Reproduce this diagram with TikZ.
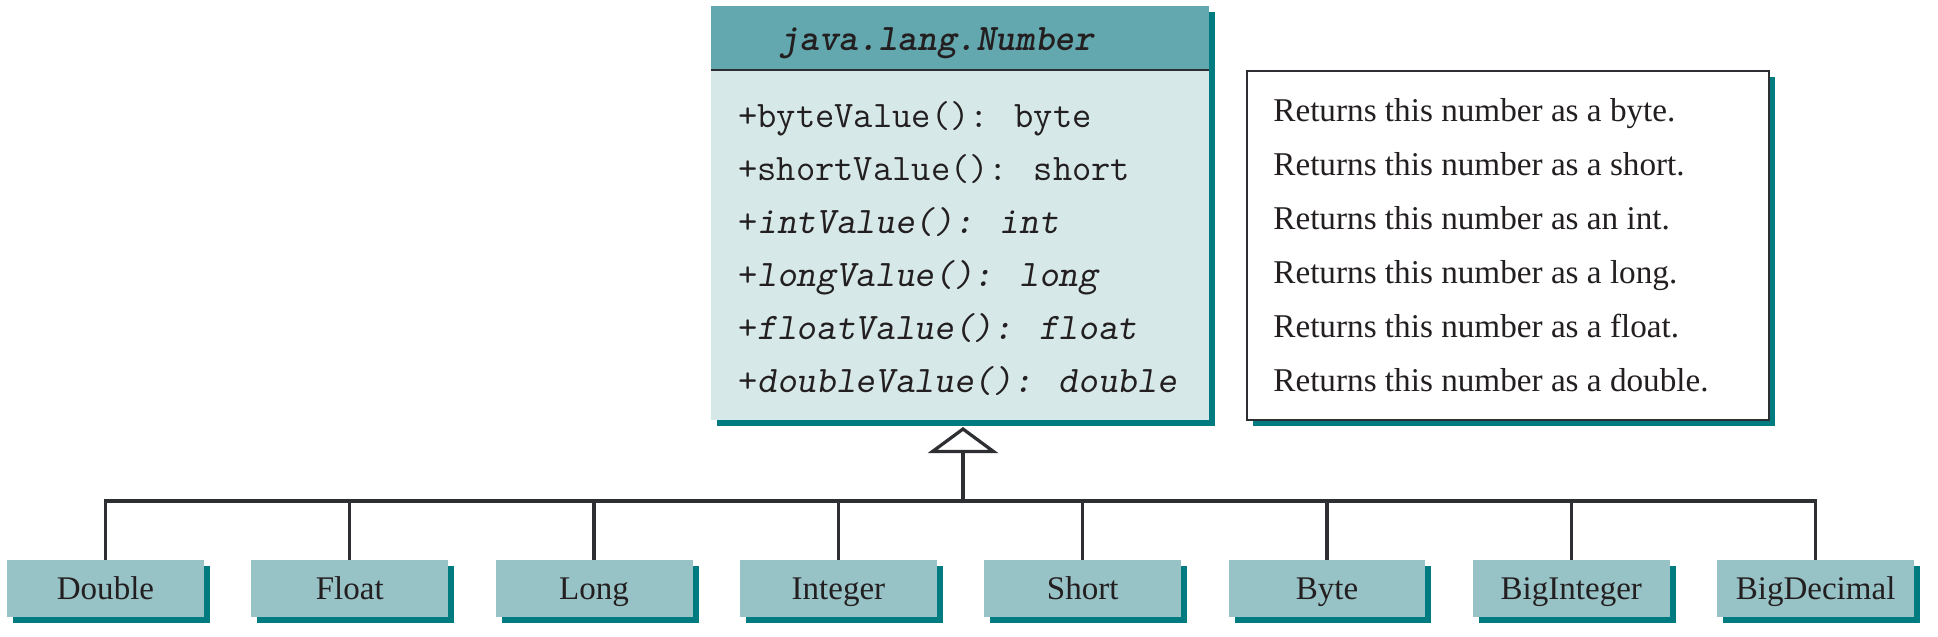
\documentclass[tikz,border=0pt]{standalone}
\usepackage{fontspec}
\setmainfont{Liberation Serif}
\usetikzlibrary{arrows.meta,shadows}
\definecolor{hdrteal}{RGB}{98,168,174}
\definecolor{bodyteal}{RGB}{214,232,232}
\definecolor{subteal}{RGB}{151,194,198}
\definecolor{shadeteal}{RGB}{0,123,127}
\definecolor{inkgray}{RGB}{46,47,51}
\definecolor{textgray}{RGB}{35,31,32}

\begin{document}
\begin{tikzpicture}[x=0.02cm,y=-0.02cm]
    \tikzstyle{shade}=[copy shadow={shadow xshift=0.12cm,shadow yshift=-0.12cm,fill=shadeteal,draw=none}]
    \tikzstyle{numbox}=[fill=bodyteal,minimum width=9.96cm,minimum height=8.28cm,inner sep=0pt,shade]
    \tikzstyle{hdrbox}=[fill=hdrteal,minimum width=9.96cm,minimum height=1.28cm,inner sep=0pt]
    \tikzstyle{descbox}=[fill=white,draw=inkgray,line width=0.04cm,minimum width=10.44cm,minimum height=6.98cm,inner sep=0pt,shade]
    \tikzstyle{subbox}=[fill=subteal,minimum width=3.94cm,minimum height=1.14cm,inner sep=0pt,text height=16pt,text depth=3pt,shade,text=textgray,font=\fontsize{18.8}{22}\selectfont]
    \tikzstyle{method}=[anchor=base west,inner sep=0pt,text=textgray,font=\ttfamily\fontsize{21.3}{24}\selectfont]
    \tikzstyle{desc}=[anchor=base west,inner sep=0pt,text=textgray,font=\fontsize{18.9}{22}\selectfont]
    \tikzstyle{lines}=[draw=inkgray,line width=0.065cm,line join=miter]
    \useasboundingbox (0,0) rectangle (1938,636);

    % java.lang.Number
    \node[numbox] (num) at (960,213) {};
    \node[hdrbox,anchor=north] (hdr) at (num.north) {};
    \draw[draw=inkgray,line width=0.04cm] (hdr.south west) -- (hdr.south east);
    \node[method,anchor=base] (title) at (937,50) {\bfseries\slshape java.lang.Number};
    \foreach \m [count=\i] in {+byteValue(): byte,+shortValue(): short,+\textsl{intValue(): int},+\textsl{longValue(): long},+\textsl{floatValue(): float},+\textsl{doubleValue(): double}}
        \node[method] (m\i) at (738,{127+53*(\i-1)}) {\m};

    % descriptions
    \node[descbox] (descr) at (1508,245.5) {};
    \foreach \d [count=\i] in {byte,short,int,long,float,double}
        \node[desc] (d\i) at (1273,{121+54*(\i-1)}) {Returns this number as \ifnum\i=3 an\else a\fi{} \d.};

    % subclasses
    \foreach \n [count=\i] in {Double,Float,Long,Integer,Short,Byte,BigInteger,BigDecimal}
        \node[subbox] (s\i) at ({105.5+244.3*(\i-1)},588.5) {\n};

    \coordinate (bus) at (963,501);
    \coordinate (tip) at (963,427);
    \foreach \i in {1,...,8}
        \draw[lines] (s\i.north) |- (bus);
    \draw[lines,-{Triangle[open,length=0.52cm,width=1.4cm]}] (bus) -- (tip);
\end{tikzpicture}
\end{document}
